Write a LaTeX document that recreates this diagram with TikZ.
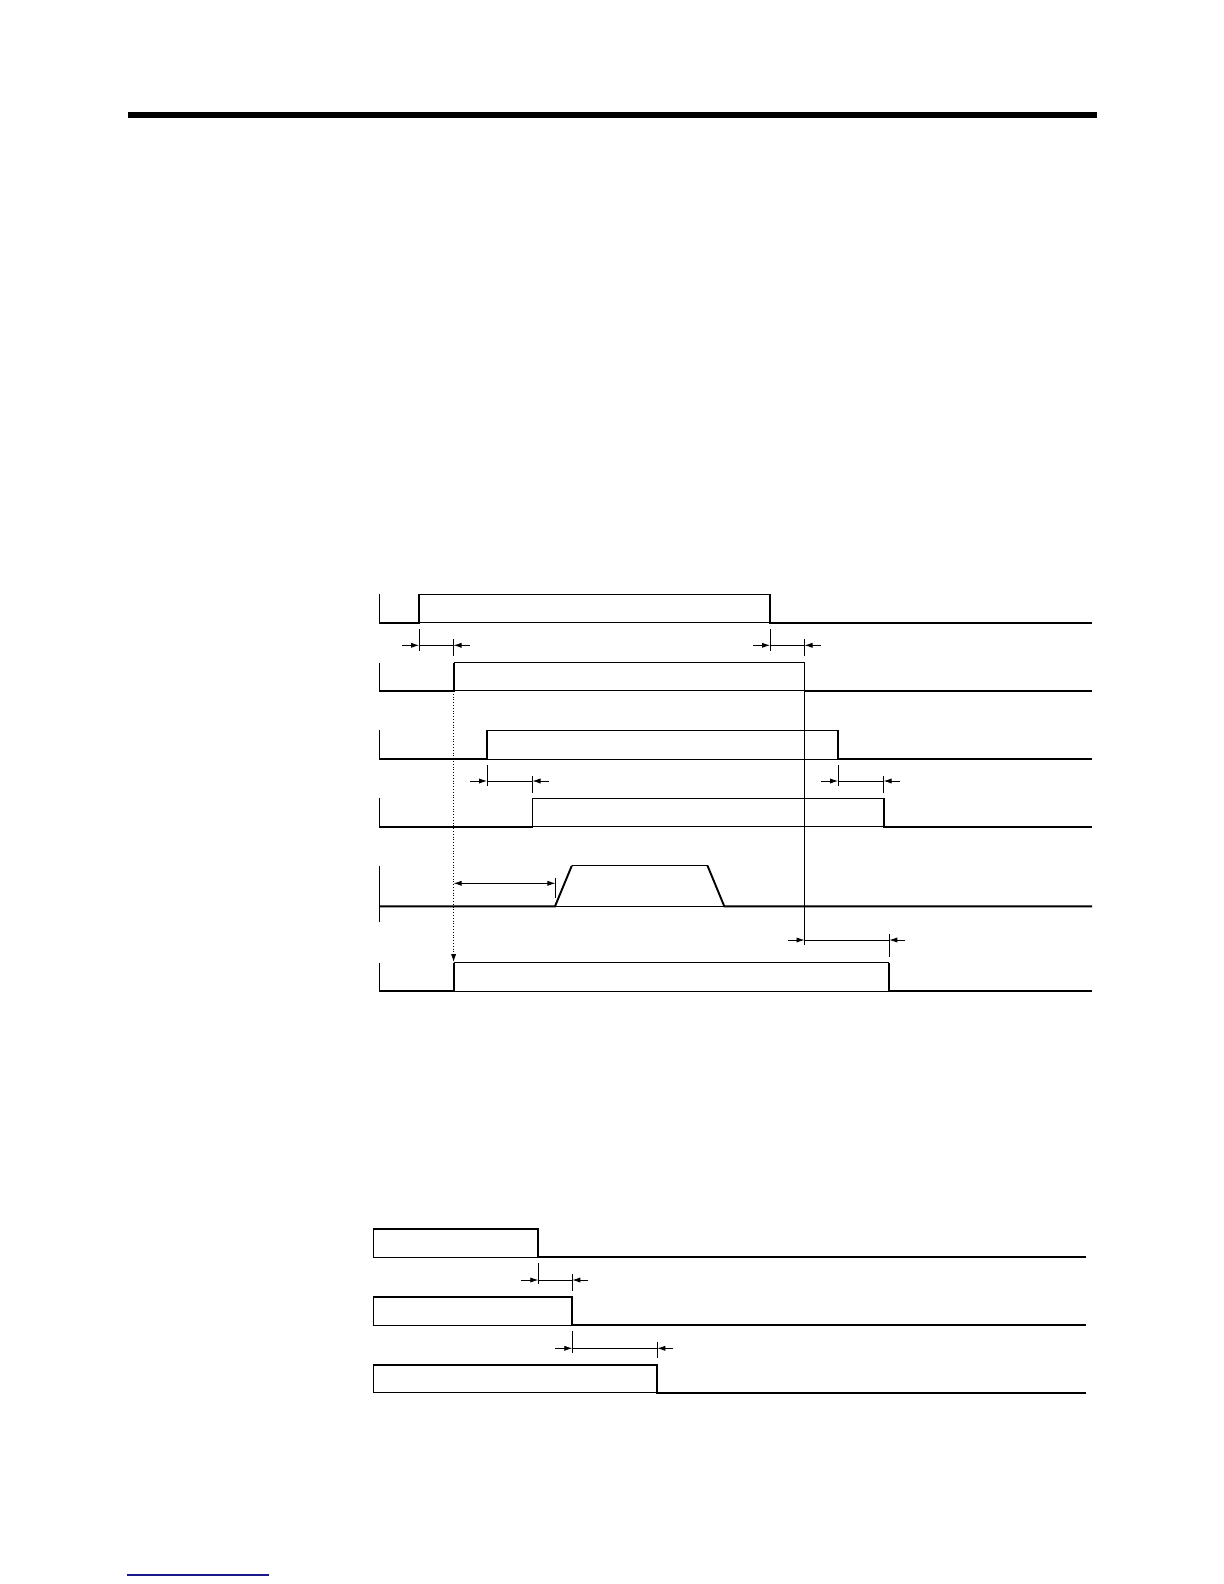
\documentclass[tikz,border=0pt]{standalone}
\usetikzlibrary{arrows.meta}
\definecolor{linkblue}{RGB}{25,25,140}
\tikzset{
  thinw/.style={line width=0.5pt},
  thickw/.style={line width=0.95pt},
  dimw/.style={line width=0.4pt},
  tip/.style={-{Latex[length=4pt,width=2.6pt]}},
}
% pulse: ylow, yhigh, xrise, xfall
\newcommand\sigpulse[4]{%
  \draw[thinw] (379,#2) -- (379,#1) -- (1092,#1);
  \draw[thinw] (#3,#2) -- (#4,#2);
  \draw[thickw] (379,#1) -- (#3,#1) -- (#3,#2);
  \draw[thickw] (#4,#2) -- (#4,#1) -- (1092,#1);
}
% falling signal: ytop, ybot, xfall
\newcommand\sigfall[3]{%
  \draw[thinw] (373.3,#1) -- (373.3,#2) -- (#3,#2);
  \draw[thickw] (373.3,#1) -- (#3,#1) -- (#3,#2) -- (1086,#2);
}
% dimension pair with outside arrows: y, xa, xb
\newcommand\dimpair[3]{%
  \draw[dimw,tip] ({#2-17},#1) -- (#2,#1);
  \draw[dimw] (#2,#1) -- (#3,#1);
  \draw[dimw,tip] ({#3+16},#1) -- (#3,#1);
}
\begin{document}
\begin{tikzpicture}[x=0.5pt,y=-0.5pt]
\useasboundingbox (0,0) rectangle (1224,1584);
% header bar
\fill (128,112.5) rectangle (1097,117.8);

% ---- upper timing diagram ----
\sigpulse{622.7}{594.3}{419}{770}
\draw[dimw] (419,629) -- (419,651);
\draw[dimw] (453.6,639) -- (453.6,656);
\dimpair{645.3}{419}{453.6}
\draw[dimw] (770,629) -- (770,651);
\draw[dimw] (804.5,639) -- (804.5,656);
\dimpair{645.3}{770}{804.5}

\sigpulse{690.7}{662.5}{453.6}{804.5}

\sigpulse{759}{730.3}{487}{838}
\draw[dimw] (487,765) -- (487,786);
\draw[dimw] (532.5,776) -- (532.5,792.7);
\dimpair{781}{487}{532.5}
\draw[dimw] (838,765) -- (838,786);
\draw[dimw] (883.6,776) -- (883.6,792.7);
\dimpair{781}{838}{883.6}

\sigpulse{826.7}{798.3}{532.5}{883.6}

% analog-like trapezoid signal
\draw[thinw] (379,865.7) -- (379,922.3);
\draw[thinw] (379,906.3) -- (1092,906.3);
\draw[thickw] (379,906.3) -- (555,906.3) -- (571.8,865.7);
\draw[thinw] (571.8,865.7) -- (707.5,865.7);
\draw[thickw] (707.5,865.7) -- (724.3,906.3) -- (1092,906.3);
\draw[dimw] (555.4,878.3) -- (555.4,898);
\draw[dimw,{Latex[length=4pt,width=2.6pt]}-{Latex[length=4pt,width=2.6pt]}] (453.6,883.3) -- (555.4,883.3);

% reference vertical line
\draw[thinw] (804.5,691) -- (804.5,945.3);
\draw[dimw] (889.3,934.3) -- (889.3,956.7);
\dimpair{940}{804.5}{889.3}

\sigpulse{991}{962.7}{453.6}{889.3}

% dotted line with arrow
\draw[dimw,densely dotted,-{Latex[length=4pt,width=2.6pt]}] (453.6,691) -- (453.6,962);

% ---- lower timing diagram ----
\sigfall{1229}{1257.3}{538.3}
\draw[dimw] (538.3,1263) -- (538.3,1284);
\draw[dimw] (572.3,1274) -- (572.3,1290.7);
\dimpair{1280}{538.3}{572.3}

\sigfall{1297.3}{1325}{572.3}
\draw[dimw] (572.3,1331) -- (572.3,1352.7);
\draw[dimw] (657.3,1341.7) -- (657.3,1358);
\dimpair{1348.3}{572.3}{657.3}

\sigfall{1364.7}{1392.7}{657.3}

% footer link underline
\draw[linkblue,line width=0.6pt] (127,1575) -- (269,1575);
\end{tikzpicture}
\end{document}
